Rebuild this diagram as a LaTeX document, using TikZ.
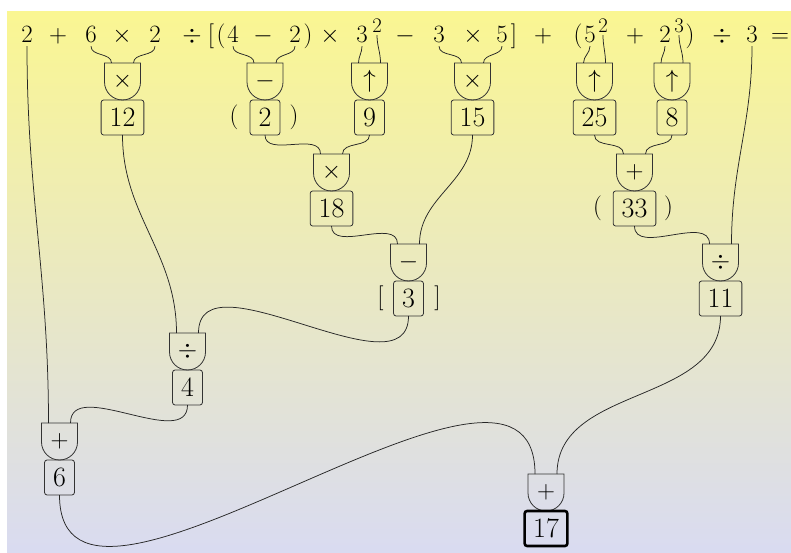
\documentclass[tikz,border=0pt]{standalone}
\usetikzlibrary{calc}
\definecolor{bgtop}{RGB}{250,246,146}
\definecolor{bgmid}{RGB}{236,233,190}
\definecolor{bgbot}{RGB}{217,219,241}
\begin{document}
\begin{tikzpicture}[x=1pt,y=1pt,
  every node/.style={font=\fontsize{28}{34}\selectfont},
  tok/.style={anchor=base, inner sep=3pt, text depth=0pt},
  supr/.style={anchor=base, inner sep=2pt, text depth=0pt, font=\fontsize{20}{24}\selectfont},
  gate/.style={minimum width=36pt, minimum height=37pt, inner sep=0pt, outer sep=0pt},
  gateline/.style={draw=black!80, line width=0.8pt},
  valbox/.style={draw=black!80, rounded corners=2.5pt, line width=0.8pt, minimum height=35pt,
                 inner xsep=8.5pt, inner ysep=0pt, anchor=north, outer sep=0pt},
  result/.style={valbox, draw=black, line width=2.6pt},
  delim/.style={inner sep=0pt},
  wire/.style={draw=black!85, line width=0.75pt}
]
\useasboundingbox (0,0) rectangle (791,-553);
\shade[top color=bgtop, middle color=bgmid, bottom color=bgbot] (7,-12) rectangle (791,-553);

% the expression
\node[tok] (t1)  at (27,-43)  {$2$};
\node[tok] (t2)  at (58,-43)  {$+$};
\node[tok] (t3)  at (91,-43)  {$6$};
\node[tok] (t4)  at (122,-43) {$\times$};
\node[tok] (t5)  at (155,-43) {$2$};
\node[tok] (t6)  at (192,-43) {$\div$};
\node[tok] (t7)  at (211,-43) {$[$};
\node[tok] (t8)  at (221,-43) {$($};
\node[tok] (t9)  at (233,-43) {$4$};
\node[tok] (t10) at (263,-43) {$-$};
\node[tok] (t11) at (295,-43) {$2$};
\node[tok] (t12) at (308,-43) {$)$};
\node[tok] (t13) at (330,-43) {$\times$};
\node[tok] (t14) at (362,-43) {$3$};
\node[supr] (t15) at (377,-33) {$2$};
\node[tok] (t16) at (405,-43) {$-$};
\node[tok] (t17) at (439,-43) {$3$};
\node[tok] (t18) at (473,-43) {$\times$};
\node[tok] (t19) at (502,-43) {$5$};
\node[tok] (t20) at (514,-43) {$]$};
\node[tok] (t21) at (543,-43) {$+$};
\node[tok] (t22) at (578,-43) {$($};
\node[tok] (t23) at (590,-43) {$5$};
\node[supr] (t24) at (603,-33) {$2$};
\node[tok] (t25) at (635,-43) {$+$};
\node[tok] (t26) at (665,-43) {$2$};
\node[supr] (t27) at (679,-33) {$3$};
\node[tok] (t28) at (690,-43) {$)$};
\node[tok] (t29) at (722,-43) {$\div$};
\node[tok] (t30) at (752,-43) {$3$};
\node[tok] (t31) at (780,-43) {$=$};

% operator gates
\node[gate] (g1)  at (122.5,-81.5) {$\times$};
\node[gate] (g2)  at (265,-81.5)   {$-$};
\node[gate] (g3)  at (369.5,-81.5) {$\uparrow$};
\node[gate] (g4)  at (472.5,-81.5) {$\times$};
\node[gate] (g5)  at (594.5,-81.5) {$\uparrow$};
\node[gate] (g6)  at (672,-81.5)   {$\uparrow$};
\node[gate] (g7)  at (331.5,-172.5) {$\times$};
\node[gate] (g8)  at (634.5,-172.5) {$+$};
\node[gate] (g9)  at (408.5,-262.5) {$-$};
\node[gate] (g10) at (720.5,-262.5) {$\div$};
\node[gate] (g11) at (187.5,-351.5) {$\div$};
\node[gate] (g12) at (59.5,-441.5)  {$+$};
\node[gate] (g13) at (546,-492.5)   {$+$};

\foreach \g in {g1,g2,g3,g4,g5,g6,g7,g8,g9,g10,g11,g12,g13}{
  \draw[gateline] (\g.north west) -- ++(0,-19) arc[start angle=180, end angle=360, radius=18pt]
        -- (\g.north east) -- cycle;
  \coordinate (\g-l) at ([xshift=-11pt]\g.north);
  \coordinate (\g-r) at ([xshift=11pt]\g.north);
}

% values
\node[valbox] (b1)  at (g1.south)  {12};
\node[valbox] (b2)  at (g2.south)  {2};
\node[valbox] (b3)  at (g3.south)  {9};
\node[valbox] (b4)  at (g4.south)  {15};
\node[valbox] (b5)  at (g5.south)  {25};
\node[valbox] (b6)  at (g6.south)  {8};
\node[valbox] (b7)  at (g7.south)  {18};
\node[valbox] (b8)  at (g8.south)  {33};
\node[valbox] (b9)  at (g9.south)  {3};
\node[valbox] (b10) at (g10.south) {11};
\node[valbox] (b11) at (g11.south) {4};
\node[valbox] (b12) at (g12.south) {6};
\node[result] (b13) at (g13.south) {17};

% grouping marks around intermediate values
\node[delim] (p1) at ([xshift=-31pt]b2.center) {$($};
\node[delim] (p2) at ([xshift=29pt]b2.center)  {$)$};
\node[delim] (p3) at ([xshift=-37pt]b8.center) {$($};
\node[delim] (p4) at ([xshift=34pt]b8.center)  {$)$};
\node[delim] (p5) at ([xshift=-28pt]b9.center) {$[$};
\node[delim] (p6) at ([xshift=29pt]b9.center)  {$]$};

% wires
\draw[wire] (t3.south)  to[out=-90,in=90] (g1-l);
\draw[wire] (t5.south)  to[out=-90,in=90] (g1-r);
\draw[wire] (t9.south)  to[out=-90,in=90] (g2-l);
\draw[wire] (t11.south) to[out=-90,in=90] (g2-r);
\draw[wire] (t14.south) to[out=-90,in=90] (g3-l);
\draw[wire] (t15.south) to[out=-90,in=90] (g3-r);
\draw[wire] (t17.south) to[out=-90,in=90] (g4-l);
\draw[wire] (t19.south) to[out=-90,in=90] (g4-r);
\draw[wire] (t23.south) to[out=-90,in=90] (g5-l);
\draw[wire] (t24.south) to[out=-90,in=90] (g5-r);
\draw[wire] (t26.south) to[out=-90,in=90] (g6-l);
\draw[wire] (t27.south) to[out=-90,in=90] (g6-r);
\draw[wire] (b2.south)  to[out=-90,in=90] (g7-l);
\draw[wire] (b3.south)  to[out=-90,in=90] (g7-r);
\draw[wire] (b5.south)  to[out=-90,in=90] (g8-l);
\draw[wire] (b6.south)  to[out=-90,in=90] (g8-r);
\draw[wire] (b7.south)  to[out=-90,in=90] (g9-l);
\draw[wire] (b4.south)  to[out=-90,in=90] (g9-r);
\draw[wire] (b8.south)  to[out=-90,in=90] (g10-l);
\draw[wire] (t30.south) to[out=-90,in=90] (g10-r);
\draw[wire] (b1.south)  to[out=-90,in=90] (g11-l);
\draw[wire] (b9.south)  to[out=-90,in=90] (g11-r);
\draw[wire] (t1.south)  to[out=-90,in=90] (g12-l);
\draw[wire] (b11.south) to[out=-90,in=90] (g12-r);
\draw[wire] (b12.south) to[out=-90,in=90] (g13-l);
\draw[wire] (b10.south) to[out=-90,in=90] (g13-r);
\end{tikzpicture}
\end{document}
